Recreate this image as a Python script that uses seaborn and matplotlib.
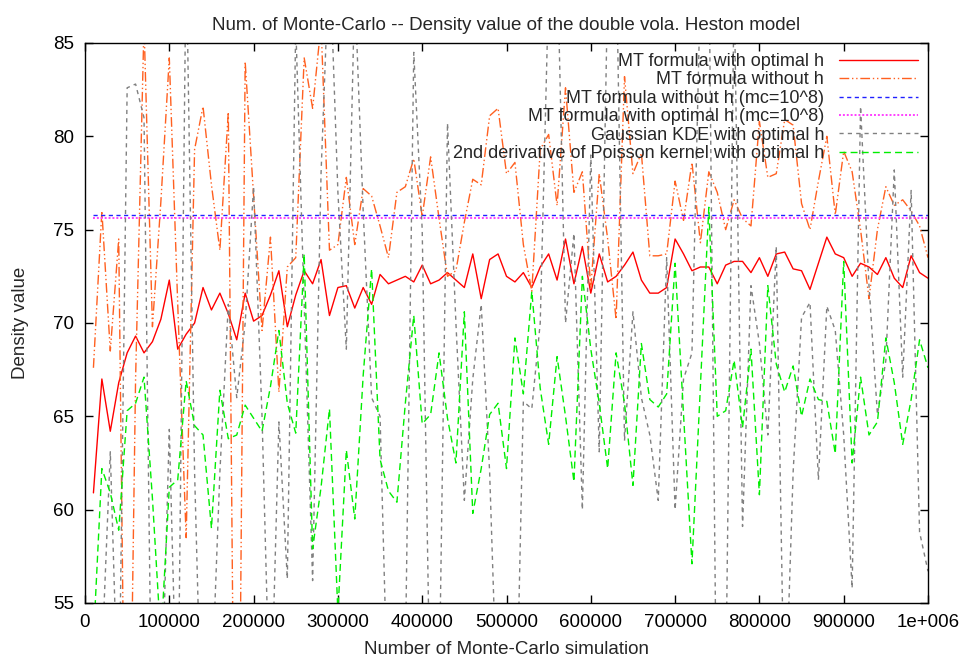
import numpy as np
import pandas as pd
import matplotlib
matplotlib.use("Agg")
import matplotlib.pyplot as plt
import seaborn as sns

# ---------------- data ----------------
mc = [10000 * i for i in range(1, 101)]

mt_optimal_h = [
    60.9, 67.0, 64.2, 66.8, 68.4, 69.3, 68.4, 69.0, 70.2, 72.3,
    68.6, 69.4, 70.0, 71.9, 70.7, 71.6, 70.5, 69.1, 71.6, 70.1,
    70.4, 71.5, 72.8, 69.8, 71.5, 72.8, 72.1, 73.4, 70.4, 71.9,
    72.0, 70.8, 71.9, 71.0, 72.6, 72.1, 72.3, 72.5, 72.2, 73.1,
    72.1, 72.3, 72.7, 72.3, 71.9, 73.7, 71.3, 73.4, 73.7, 72.5,
    72.2, 72.7, 71.9, 73.0, 73.7, 72.3, 74.5, 72.1, 74.1, 71.6,
    73.7, 72.2, 72.5, 73.1, 73.8, 72.3, 71.6, 71.6, 71.9, 74.5,
    73.7, 72.8, 73.0, 73.0, 72.1, 73.1, 73.3, 73.3, 72.7, 73.5,
    72.5, 73.7, 73.8, 72.9, 72.8, 71.8, 73.2, 74.6, 73.7, 73.5,
    72.5, 73.2, 73.0, 72.6, 73.5, 72.4, 71.9, 73.6, 72.7, 72.4,
]

mt_without_h = [
    67.6, 76.0, 68.5, 74.5, 35.0, 67.0, 86.0, 69.8, 76.5, 84.2,
    71.0, 58.5, 79.3, 81.6, 77.4, 73.9, 81.3, 30.0, 84.0, 76.8,
    69.6, 74.6, 66.3, 73.0, 73.5, 84.2, 81.5, 86.0, 73.9, 74.2,
    77.8, 74.2, 77.2, 76.8, 75.2, 73.5, 77.0, 77.3, 78.8, 75.7,
    78.9, 75.6, 72.5, 72.8, 75.4, 77.7, 77.4, 81.1, 81.5, 78.0,
    78.6, 74.2, 71.7, 79.3, 80.1, 76.3, 82.6, 77.0, 78.1, 71.9,
    78.0, 74.5, 70.2, 83.2, 78.0, 79.1, 73.6, 73.6, 73.7, 77.6,
    75.5, 78.6, 74.3, 78.1, 77.0, 75.0, 76.6, 75.6, 75.2, 80.8,
    77.8, 78.0, 80.9, 80.6, 76.4, 75.0, 77.6, 80.0, 75.8, 79.2,
    78.1, 75.0, 71.3, 75.0, 77.3, 76.3, 76.6, 76.0, 75.2, 73.5,
]

mt_without_h_mc1e8 = 75.8
mt_optimal_h_mc1e8 = 75.6

gaussian_kde = [
    48.0, 52.0, 63.1, 48.0, 82.6, 82.8, 81.0, 45.0, 48.0, 64.3,
    47.0, 90.0, 62.0, 45.0, 50.0, 62.0, 71.0, 66.0, 70.0, 77.3,
    65.0, 48.0, 64.7, 56.3, 86.0, 71.0, 56.2, 78.0, 90.0, 77.0,
    68.6, 88.0, 76.0, 66.0, 65.0, 48.0, 50.0, 52.0, 84.5, 75.0,
    48.0, 50.0, 80.7, 70.0, 60.5, 67.0, 71.0, 62.0, 48.0, 52.0,
    45.0, 65.8, 65.4, 70.0, 88.0, 90.0, 70.0, 74.8, 60.0, 79.0,
    63.1, 88.0, 90.0, 63.7, 70.6, 66.0, 64.0, 60.5, 73.5, 60.0,
    67.0, 68.4, 88.0, 90.0, 45.0, 50.0, 88.0, 59.1, 72.0, 68.9,
    64.0, 74.1, 48.0, 62.0, 70.3, 71.1, 61.6, 70.9, 69.6, 64.0,
    55.8, 81.6, 72.0, 65.1, 68.0, 78.2, 67.1, 77.1, 58.8, 56.7,
]

poisson_2nd = [
    53.0, 62.2, 60.9, 58.9, 65.3, 65.7, 67.1, 60.6, 53.0, 61.2,
    61.6, 66.9, 64.5, 64.0, 59.0, 66.4, 63.8, 64.0, 65.6, 64.9,
    64.2, 66.6, 69.6, 65.7, 64.1, 73.7, 57.9, 61.2, 65.4, 54.5,
    63.2, 59.5, 67.2, 72.9, 62.7, 61.0, 60.4, 65.7, 70.4, 64.6,
    65.1, 68.4, 64.9, 62.5, 70.6, 59.8, 62.2, 65.1, 65.7, 62.2,
    69.2, 66.2, 71.7, 66.5, 63.5, 68.2, 65.0, 61.5, 72.5, 68.6,
    65.7, 62.2, 68.4, 65.7, 61.3, 68.9, 65.9, 65.5, 66.2, 73.2,
    65.1, 57.1, 66.6, 76.2, 65.0, 65.3, 68.0, 64.4, 68.6, 60.8,
    72.0, 67.8, 66.3, 67.7, 65.0, 67.0, 65.9, 65.8, 63.0, 73.3,
    62.5, 67.1, 64.0, 64.7, 69.2, 66.8, 63.5, 65.9, 69.1, 67.6,
]

labels = [
    "MT formula with optimal h",
    "MT formula without h",
    "MT formula without h (mc=10^8)",
    "MT formula with optimal h (mc=10^8)",
    "Gaussian KDE with optimal h",
    "2nd derivative of Poisson kernel with optimal h",
]

xticks = [0, 100000, 200000, 300000, 400000, 500000, 600000, 700000, 800000, 900000, 1000000]
xticklabels = ["0", "100000", "200000", "300000", "400000", "500000",
               "600000", "700000", "800000", "900000", "1e+006"]
yticks = [55, 60, 65, 70, 75, 80, 85]

# ---------------- style ----------------
sns.set_theme(style="white")
plt.rcParams["font.family"] = ["Liberation Sans", "DejaVu Sans"]
fs = 13.5

fig = plt.figure(figsize=(9.66, 6.63), dpi=100)
ax = fig.add_axes([85 / 966, 1 - 603 / 663, (928 - 85) / 966, (603 - 43) / 663])

lw = 1.0
sns.lineplot(x=mc, y=mt_optimal_h, ax=ax, color="#ff0000", lw=lw,
             label=labels[0])
sns.lineplot(x=mc, y=mt_without_h, ax=ax, color="#ff6020", lw=lw,
             linestyle=(0, (7, 2, 1, 2, 1, 2)), label=labels[1])
sns.lineplot(x=[mc[0], mc[-1]], y=[mt_without_h_mc1e8] * 2, ax=ax,
             color="#2020ff", lw=lw, linestyle=(0, (3, 2.5)), label=labels[2])
sns.lineplot(x=[mc[0], mc[-1]], y=[mt_optimal_h_mc1e8] * 2, ax=ax,
             color="#ff40ff", lw=1.4, linestyle=(0, (1, 1)), label=labels[3])
sns.lineplot(x=mc, y=gaussian_kde, ax=ax, color="#808080", lw=lw,
             linestyle=(0, (3, 3)), label=labels[4])
sns.lineplot(x=mc, y=poisson_2nd, ax=ax, color="#00ee00", lw=lw,
             linestyle=(0, (5, 3)), label=labels[5])

ax.set_xlim(0, 1000000)
ax.set_ylim(55, 85)
ax.set_xticks(xticks)
ax.set_xticklabels(xticklabels)
ax.set_yticks(yticks)
ax.tick_params(direction="in", length=6, width=1, top=True, right=True,
               bottom=True, left=True, labelsize=fs, colors="black", pad=8)
for s in ax.spines.values():
    s.set_color("black")
    s.set_linewidth(1.0)

ax.set_title("Num. of Monte-Carlo -- Density value of the double vola. Heston model",
             fontsize=fs, pad=9)
ax.set_xlabel("Number of Monte-Carlo simulation", fontsize=fs, labelpad=7)
ax.set_ylabel("Density value", fontsize=fs, labelpad=17)

leg = ax.legend(loc="upper right", frameon=False, markerfirst=False,
                handlelength=4.4, labelspacing=0.08, handletextpad=0.8,
                borderaxespad=0.0, borderpad=0.55, fontsize=13)

fig.savefig("out.png", dpi=100)
